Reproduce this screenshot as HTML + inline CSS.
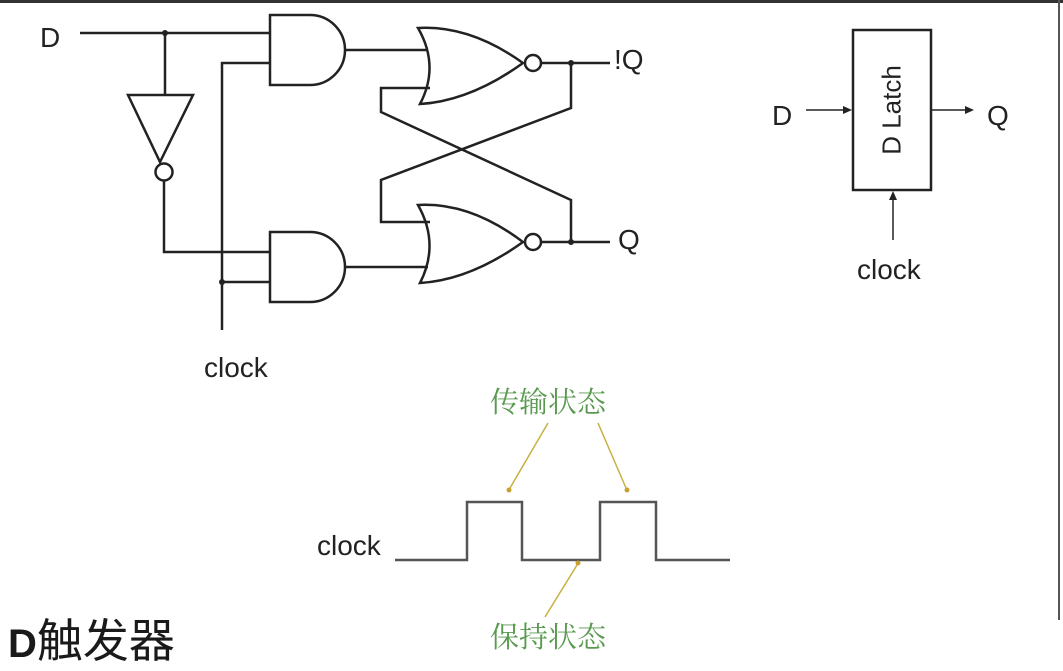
<!DOCTYPE html>
<html><head><meta charset="utf-8"><style>
body{margin:0;width:1063px;height:667px;background:#fff;overflow:hidden;position:relative}
svg{position:absolute;left:0;top:0}
.t{position:absolute;font-family:"Liberation Sans",sans-serif;color:#222;white-space:nowrap}
.cn{font-family:"Noto Serif CJK SC","Noto Sans CJK SC",serif;color:#5a9a50;font-size:29px}
</style></head><body>
<svg width="1063" height="667" viewBox="0 0 1063 667">
<rect x="0" y="0" width="1063" height="3" fill="#333"/>
<line x1="1059" y1="0" x2="1059" y2="620" stroke="#555" stroke-width="2"/>
<g fill="none" stroke="#222" stroke-width="2.5">
<!-- D wire -->
<path d="M80 33 H270"/>
<path d="M165 33 V95"/>
<path d="M128 95 H193 L160 162 Z"/>
<circle cx="164" cy="172" r="8.5"/>
<path d="M164 181 V252 H270"/>
<!-- clock -->
<path d="M222 330 V63 H270"/>
<path d="M222 282 H270"/>
<!-- AND gates -->
<path d="M270 15 H310 A35 35 0 0 1 310 85 H270 Z"/>
<path d="M270 232 H310 A35 35 0 0 1 310 302 H270 Z"/>
<path d="M345 50 H428"/>
<path d="M345 267 H428"/>
<!-- NOR gates -->
<path d="M418 28 Q470 25 523 63 Q470 101 420 104 Q440 66 418 28 Z"/>
<circle cx="533" cy="63" r="8"/>
<path d="M418 205 Q470 202 523 242 Q470 280 420 283 Q440 244 418 205 Z"/>
<circle cx="533" cy="242" r="8"/>
<path d="M541 63 H610"/>
<path d="M541 242 H610"/>
<!-- cross feedback -->
<path d="M430 88 H381 V112 L571 200 V242"/>
<path d="M430 222 H381 V180 L571 108 V63"/>
<!-- latch box -->
<rect x="853" y="30" width="78" height="160"/>
</g>
<g fill="#222">
<circle cx="165" cy="33" r="3"/><circle cx="222" cy="282" r="3"/>
<circle cx="571" cy="63" r="3"/><circle cx="571" cy="242" r="3"/>
</g>
<g stroke="#222" stroke-width="1.5">
<line x1="806" y1="110" x2="845" y2="110"/><line x1="931" y1="110" x2="967" y2="110"/>
<line x1="893" y1="240" x2="893" y2="198"/>
</g>
<g fill="#222">
<path d="M852 110 L843 106 L843 114Z"/><path d="M974 110 L965 106 L965 114Z"/>
<path d="M893 191 L889 200 L897 200Z"/>
</g>
<path d="M395 560 H467 V502 H522 V560 H600 V502 H656 V560 H730" fill="none" stroke="#555" stroke-width="2.5"/>
<g stroke="#c8b040" stroke-width="1.5">
<line x1="548" y1="423" x2="510" y2="488"/>
<line x1="598" y1="423" x2="626" y2="488"/>
<line x1="545" y1="617" x2="577" y2="565"/>
</g>
<g fill="#c8a030">
<circle cx="509" cy="490" r="2.5"/><circle cx="627" cy="490" r="2.5"/><circle cx="578" cy="563" r="2.5"/>
</g>
</svg>
<div class="t" style="left:40px;top:22px;font-size:28px">D</div>
<div class="t" style="left:614px;top:44px;font-size:28px">!Q</div>
<div class="t" style="left:618px;top:224px;font-size:28px">Q</div>
<div class="t" style="left:204px;top:352px;font-size:28px">clock</div>
<div class="t" style="left:772px;top:100px;font-size:28px">D</div>
<div class="t" style="left:987px;top:100px;font-size:28px">Q</div>
<div class="t" style="left:857px;top:254px;font-size:28px">clock</div>
<div class="t" style="left:892px;top:110px;font-size:26px;transform:translate(-50%,-50%) rotate(-90deg)">D Latch</div>
<div class="t" style="left:317px;top:530px;font-size:28px">clock</div>
<div class="t cn" style="left:490px;top:380px">传输状态</div>
<div class="t cn" style="left:490px;top:615px">保持状态</div>
<div class="t" style="left:8px;top:605px;font-size:46px;color:#1a1a1a;font-family:'Liberation Sans','Noto Sans CJK SC',sans-serif"><b style="font-size:40px">D</b>触发器</div>
</body></html>
